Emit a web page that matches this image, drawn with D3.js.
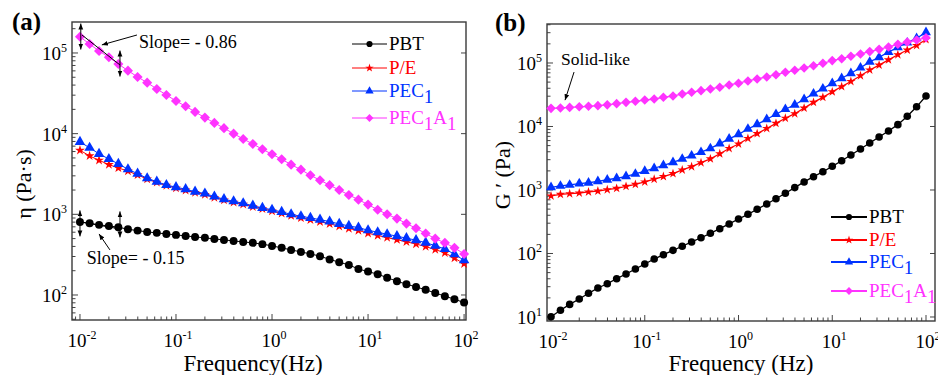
<!DOCTYPE html>
<html>
<head>
<meta charset="utf-8">
<title>Complex viscosity and storage modulus</title>
<script src="https://cdn.jsdelivr.net/npm/d3@7"></script>
<style>
    body { margin: 0; background: #fff; }
    svg text { font-family: "Liberation Serif", "DejaVu Serif", "Times New Roman", serif; }
</style>
</head>
<body>
<div id="container"></div>
<script>
    // frequency sweep, 10 points per decade
    const freq = [0.01, 0.0126, 0.0158, 0.02, 0.0251, 0.0316, 0.0398, 0.0501, 0.0631, 0.0794,
        0.1, 0.126, 0.158, 0.2, 0.251, 0.316, 0.398, 0.501, 0.631, 0.794,
        1, 1.26, 1.58, 2, 2.51, 3.16, 3.98, 5.01, 6.31, 7.94,
        10, 12.6, 15.8, 20, 25.1, 31.6, 39.8, 50.1, 63.1, 79.4, 100];

    const seriesNames = ["PBT", "P/E", "PEC1", "PEC1A1"];
    const xTicks = [1e-2, 1e-1, 1e0, 1e1, 1e2];
    const yTicksA = [1e2, 1e3, 1e4, 1e5];
    const yTicksB = [1e1, 1e2, 1e3, 1e4, 1e5];

    // (a) complex viscosity, Pa·s
    const etaPBT = [805, 776, 740, 718, 692, 653, 628, 605, 589, 571,
        556, 540, 525, 511, 495, 482, 468, 455, 443, 427,
        406, 384, 362, 342, 323, 303, 276, 255, 236, 210,
        195, 181, 164, 148, 136, 126, 116, 106, 96.6, 88.7, 80.5];
    const etaPE = [6220, 5300, 4680, 4130, 3760, 3430, 3080, 2740, 2490, 2280,
        2120, 1990, 1860, 1760, 1610, 1500, 1410, 1330, 1240, 1170,
        1100, 1030, 962, 902, 855, 809, 762, 710, 665, 631,
        583, 547, 514, 485, 456, 429, 398, 366, 333, 287, 243];
    const etaPEC1 = [7890, 6680, 5620, 4850, 4220, 3620, 3190, 2800, 2540, 2310,
        2170, 2050, 1910, 1810, 1660, 1540, 1450, 1370, 1280, 1200,
        1140, 1070, 1000, 946, 902, 859, 813, 760, 718, 684,
        635, 600, 566, 536, 506, 478, 445, 409, 372, 320, 269];
    const etaPEC1A1 = [159000, 129000, 106000, 88500, 73100, 60400, 50500, 42900, 35800, 30200,
        25400, 21900, 18600, 15800, 13600, 11700, 10000, 8590, 7450, 6410,
        5560, 4820, 4130, 3580, 3050, 2650, 2300, 2000, 1740, 1520,
        1320, 1140, 1000, 885, 767, 673, 577, 500, 443, 384, 323];

    // (b) storage modulus G', Pa
    const gPBT = [10.1, 12.8, 15.8, 19.2, 23.6, 28.6, 33.4, 40.1, 47.5, 57.0,
        68.4, 81.8, 95.7, 112, 130, 152, 177, 208, 246, 292,
        349, 414, 497, 603, 729, 887, 1090, 1340, 1620, 1940,
        2360, 2890, 3560, 4430, 5500, 6840, 8490, 10700, 14500, 20400, 30200];
    const gPE = [805, 855, 875, 897, 931, 964, 1010, 1060, 1140, 1230,
        1340, 1480, 1630, 1810, 2070, 2330, 2690, 3090, 3720, 4510,
        5300, 6470, 7730, 9310, 11200, 13500, 15900, 19500, 24000, 28800,
        35200, 42400, 51200, 63100, 77600, 92700, 112000, 135000, 160000, 189000, 234000];
    const gPEC1 = [1100, 1160, 1200, 1260, 1300, 1370, 1450, 1530, 1640, 1790,
        1990, 2200, 2450, 2730, 3080, 3470, 3940, 4520, 5370, 6380,
        7530, 9140, 10800, 13000, 15600, 18700, 22000, 26800, 32900, 39400,
        47900, 57400, 68900, 84300, 104000, 123000, 148000, 177000, 209000, 245000, 304000];
    const gPEC1A1 = [19300, 19600, 20000, 20400, 20800, 21300, 21900, 22900, 24000, 24900,
        26100, 27100, 28800, 30200, 32500, 34600, 36700, 39000, 41600, 45100,
        48000, 52100, 56000, 60300, 65500, 71400, 76700, 83400, 90600, 98900,
        109000, 117000, 128000, 139000, 151000, 164000, 179000, 197000, 214000, 230000, 250000];

    const colors = ["#000000", "#ff0000", "#0033ff", "#ff33ff"];
    const serif = "'Liberation Serif', 'DejaVu Serif', 'Times New Roman', serif";

    // square diamond like Origin's
    const diamond = {
        draw(ctx, size) {
            const r = Math.sqrt(size) * 0.62;
            ctx.moveTo(0, -r); ctx.lineTo(r, 0); ctx.lineTo(0, r); ctx.lineTo(-r, 0); ctx.closePath();
        }
    };
    const symbolTypes = [d3.symbolCircle, d3.symbolStar, d3.symbolTriangle, diamond];
    const symbolSizes = [50, 30, 48, 66];
    const legendSizes = [30, 22, 30, 40];

    const svg = d3.select("#container")
        .append("svg")
        .attr("width", 938)
        .attr("height", 375)
        .attr("font-family", serif)
        .style("font-family", serif);

    const defs = svg.append("defs");
    defs.append("marker")
        .attr("id", "arrow")
        .attr("viewBox", "0 0 10 10")
        .attr("refX", 10).attr("refY", 5)
        .attr("markerWidth", 6).attr("markerHeight", 6)
        .attr("orient", "auto-start-reverse")
        .append("path")
        .attr("d", "M0,1 L10,5 L0,9 Z")
        .attr("fill", "#000");

    function powerLabel(sel, v) {
        const e = Math.round(Math.log10(v));
        sel.text("10");
        sel.append("tspan").attr("dy", -8).attr("font-size", 12).text(e);
    }

    function seriesLabel(sel, name) {
        // PEC1 -> PEC + subscript 1, PEC1A1 -> PEC1 A1 with subscripts
        const parts = name.match(/[A-Z\/]+|\d/g);
        let low = false;
        parts.forEach(p => {
            const isSub = /\d/.test(p);
            const ts = sel.append("tspan").text(p);
            if (isSub && !low) { ts.attr("dy", 6); low = true; }
            else if (!isSub && low) { ts.attr("dy", -6); low = false; }
        });
    }

    function logTicks(domain) {
        const out = [];
        const lo = Math.floor(Math.log10(domain[0])), hi = Math.ceil(Math.log10(domain[1]));
        for (let e = lo; e <= hi; e++) {
            for (let m = 1; m <= 9; m++) {
                const v = m * Math.pow(10, e);
                if (v >= domain[0] && v <= domain[1]) out.push({v: v, major: m === 1});
            }
        }
        return out;
    }

    function drawPanel(cfg) {
        const g = svg.append("g");
        const b = cfg.box;
        const x = d3.scaleLog().domain(cfg.xDom).range([b.l, b.r]);
        const y = d3.scaleLog().domain(cfg.yDom).range([b.b, b.t]);

        // ticks, inward
        const tickCol = "#444";
        logTicks(cfg.xDom).forEach(t => {
            g.append("line").attr("x1", x(t.v)).attr("x2", x(t.v))
                .attr("y1", b.b).attr("y2", b.b - (t.major ? 6 : 3.5))
                .attr("stroke", tickCol).attr("stroke-width", 1);
        });
        logTicks(cfg.yDom).forEach(t => {
            g.append("line").attr("x1", b.l).attr("x2", b.l + (t.major ? 6 : 3.5))
                .attr("y1", y(t.v)).attr("y2", y(t.v))
                .attr("stroke", tickCol).attr("stroke-width", 1);
            if (t.major) {
                g.append("line").attr("x1", b.r).attr("x2", b.r - 5)
                    .attr("y1", y(t.v)).attr("y2", y(t.v))
                    .attr("stroke", tickCol).attr("stroke-width", 1);
            }
        });

        g.append("rect")
            .attr("x", b.l).attr("y", b.t)
            .attr("width", b.r - b.l).attr("height", b.b - b.t)
            .attr("fill", "none").attr("stroke", "#3a3a3a").attr("stroke-width", 1.4);

        // tick labels
        xTicks.forEach(v => {
            g.append("text").attr("x", x(v) + 2).attr("y", b.b + 27)
                .attr("text-anchor", "middle").attr("font-size", 19)
                .call(powerLabel, v);
        });
        cfg.yTicks.forEach(v => {
            g.append("text").attr("x", b.l - 5).attr("y", y(v) + 7)
                .attr("text-anchor", "end").attr("font-size", 19)
                .call(powerLabel, v);
        });

        // axis titles
        g.append("text")
            .attr("x", cfg.xTitleX).attr("y", 371)
            .attr("text-anchor", "middle").attr("font-size", 23)
            .text(cfg.xTitle);
        g.append("text")
            .attr("transform", `translate(${cfg.yTitleX},${cfg.yTitleY}) rotate(-90)`)
            .attr("text-anchor", "middle").attr("font-size", 22)
            .text(cfg.yTitle);
        g.append("text")
            .attr("x", cfg.tag[0]).attr("y", cfg.tag[1])
            .attr("font-size", 25).attr("font-weight", "bold")
            .text(cfg.tagText);

        // series
        const line = d3.line().x(d => x(d[0])).y(d => y(d[1]));
        cfg.series.forEach((vals, i) => {
            const pts = freq.map((f, k) => [f, vals[k]]);
            g.append("path").datum(pts)
                .attr("d", line)
                .attr("fill", "none")
                .attr("stroke", colors[i])
                .attr("stroke-width", cfg.lineWidth);
            g.selectAll(null)
                .data(pts)
                .join("path")
                .attr("transform", d => `translate(${x(d[0])},${y(d[1])})`)
                .attr("d", d3.symbol(symbolTypes[i], symbolSizes[i] * cfg.markScale))
                .attr("fill", colors[i]);
        });

        // legend
        const lg = cfg.legend;
        seriesNames.forEach((name, i) => {
            const ry = lg.rows[i];
            g.append("line").attr("x1", lg.x0).attr("x2", lg.x1)
                .attr("y1", ry).attr("y2", ry)
                .attr("stroke", colors[i]).attr("stroke-width", lg.width);
            g.append("path")
                .attr("transform", `translate(${(lg.x0 + lg.x1) / 2},${ry})`)
                .attr("d", d3.symbol(symbolTypes[i], legendSizes[i]))
                .attr("fill", colors[i]);
            g.append("text").attr("x", lg.x1 + 2).attr("y", ry + 6)
                .attr("font-size", 19).attr("fill", colors[i])
                .call(seriesLabel, name);
        });

        return {g: g, x: x, y: y};
    }

    const pa = drawPanel({
        box: {l: 72, t: 22, r: 466, b: 320},
        xDom: [Math.pow(10, -2.083), Math.pow(10, 2.02)],
        yDom: [Math.pow(10, 1.69), Math.pow(10, 5.384)],
        yTicks: yTicksA,
        series: [etaPBT, etaPE, etaPEC1, etaPEC1A1],
        lineWidth: 1, markScale: 1,
        xTitle: "Frequency(Hz)", xTitleX: 253,
        yTitle: "η (Pa·s)", yTitleX: 31, yTitleY: 184,
        tag: [12, 30], tagText: "(a)",
        legend: {x0: 352, x1: 387, rows: [44, 68, 91, 118], width: 1}
    });

    const pb = drawPanel({
        box: {l: 547, t: 24, r: 935, b: 321},
        xDom: [Math.pow(10, -2.043), Math.pow(10, 2.096)],
        yDom: [Math.pow(10, 0.937), Math.pow(10, 5.614)],
        yTicks: yTicksB,
        series: [gPBT, gPE, gPEC1, gPEC1A1],
        lineWidth: 1.3, markScale: 0.9,
        xTitle: "Frequency (Hz)", xTitleX: 741,
        yTitle: "G \u2032 (Pa)", yTitleX: 510, yTitleY: 175,
        tag: [495, 31], tagText: "(b)",
        legend: {x0: 831, x1: 867, rows: [217, 240, 262, 291], width: 2}
    });

    // annotations
    function segment(p, a, c, opts) {
        const s = p.g.append("line")
            .attr("x1", p.x(a[0])).attr("y1", p.y(a[1]))
            .attr("x2", p.x(c[0])).attr("y2", p.y(c[1]))
            .attr("stroke", "#000").attr("stroke-width", 1);
        if (opts === "end") s.attr("marker-end", "url(#arrow)");
    }
    function doubleArrow(p, f, v) {
        const cx = p.x(f), cy = p.y(v);
        p.g.append("line")
            .attr("x1", cx).attr("x2", cx).attr("y1", cy - 13).attr("y2", cy + 13)
            .attr("stroke", "#000").attr("stroke-width", 1)
            .attr("marker-end", "url(#arrow)").attr("marker-start", "url(#arrow)");
    }
    function note(p, f, v, txt, size) {
        p.g.append("text").attr("x", p.x(f)).attr("y", p.y(v))
            .attr("font-size", size).text(txt);
    }

    // panel (a)
    segment(pa, [0.0105, 167000], [0.0261, 71000]);
    doubleArrow(pa, 0.0102, 160000);
    doubleArrow(pa, 0.0261, 74000);
    segment(pa, [0.0392, 167000], [0.0169, 126000], "end");
    note(pa, 0.0412, 115000, "Slope= - 0.86", 18);

    segment(pa, [0.01, 805], [0.0261, 659]);
    doubleArrow(pa, 0.01, 771);
    doubleArrow(pa, 0.0261, 750);
    segment(pa, [0.0205, 362], [0.0158, 571], "end");
    note(pa, 0.0118, 243, "Slope= - 0.15", 18);

    // panel (b)
    note(pb, 0.0128, 93000, "Solid-like", 17.5);
    segment(pb, [0.0176, 72000], [0.0141, 26000], "end");
</script>
</body>
</html>
